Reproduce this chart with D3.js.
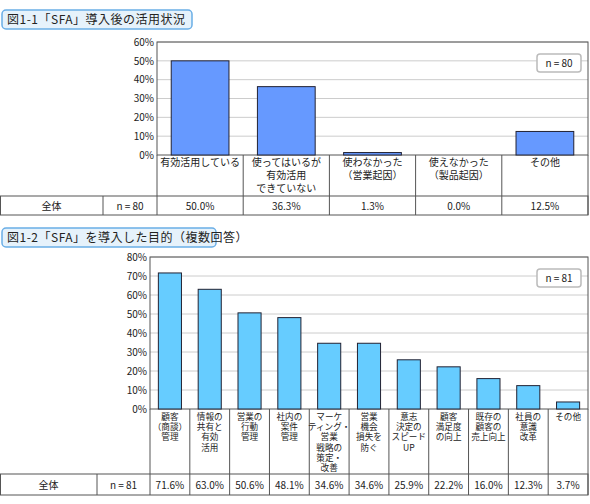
<!DOCTYPE html><html><head><meta charset="utf-8">
<script src="https://cdn.jsdelivr.net/npm/d3@7"></script>
<style>body{margin:0;background:#fff}text{font-family:"Noto Sans CJK JP",sans-serif;font-size:10px;fill:#222}</style>
</head><body><svg id="c" width="590" height="504"></svg><script>
const cats1=["有効活用している","使ってはいるが|有効活用|できていない","使わなかった|（営業起因）","使えなかった|（製品起因）","その他"];
const vals1=[50.0,36.3,1.3,0.0,12.5];
const ticks1=[0,10,20,30,40,50,60];
const cats2=["顧客|（商談）|管理","情報の|共有と|有効|活用","営業の|行動|管理","社内の|案件|管理","マーケ|ティング・|営業|戦略の|策定・|改善","営業|機会|損失を|防ぐ","意志|決定の|スピード|UP","顧客|満足度|の向上","既存の|顧客の|売上向上","社員の|意識|改革","その他"];
const vals2=[71.6,63.0,50.6,48.1,34.6,34.6,25.9,22.2,16.0,12.3,3.7];
const ticks2=[0,10,20,30,40,50,60,70,80];
const svg=d3.select("#c");
function chart(o){
  const g=svg.append("g");
  g.append("rect").attr("x",2).attr("y",o.ty).attr("width",o.tw).attr("height",19).attr("rx",4)
   .attr("fill","#e6f2fb").attr("stroke","#6aaee6").attr("stroke-width",1.5);
  g.append("text").attr("x",7).attr("y",o.ty+14).style("font-size","12px").style("letter-spacing","0.5px").text(o.title);
  const x=d3.scaleBand().domain(d3.range(o.cats.length)).range([o.x0,588]).paddingInner(o.pad).paddingOuter(o.pad/2);
  const y=d3.scaleLinear().domain([0,o.max]).range([o.y0,o.y1]);
  g.selectAll(".gl").data(o.ticks.slice(1)).join("line").attr("x1",o.x0).attr("x2",588)
   .attr("y1",d=>y(d)).attr("y2",d=>y(d)).attr("stroke","#ccc");
  g.append("rect").attr("x",o.x0).attr("y",o.y1).attr("width",588-o.x0).attr("height",o.y0-o.y1).attr("fill","none").attr("stroke","#555");
  const ax=g.append("g").attr("transform",`translate(${o.x0},0)`).call(d3.axisLeft(y).tickValues(o.ticks).tickSize(0).tickPadding(3).tickFormat(d=>d+"%"));
  ax.select(".domain").remove();
  ax.selectAll("text").style("font-size","10px").attr("fill","#222");
  g.selectAll(".b").data(o.vals).join("rect").attr("x",(d,i)=>x(i)).attr("width",x.bandwidth())
   .attr("y",d=>y(d)).attr("height",d=>o.y0-y(d)).attr("fill",o.color).attr("stroke","#223").attr("stroke-width",1);
  g.append("rect").attr("x",537).attr("y",o.y1+12).attr("width",44).attr("height",18).attr("rx",3).attr("fill","#fff").attr("stroke","#bbb").attr("stroke-width",1.5);
  g.append("text").attr("x",559).attr("y",o.y1+25).attr("text-anchor","middle").text("n = "+o.n);
  const step=(588-o.x0)/o.cats.length;
  const colX=i=>o.x0+i*step;
  g.selectAll(".vl").data(d3.range(o.cats.length+1)).join("line").attr("x1",colX).attr("x2",colX)
   .attr("y1",o.y0).attr("y2",o.tb).attr("stroke","#555");
  o.cats.forEach((c,i)=>{
    c.split("|").forEach((s,j)=>g.append("text").attr("x",colX(i)+step/2).attr("y",o.y0+11+j*o.lh)
      .attr("text-anchor","middle").style("font-size",o.fs+"px").text(s));
  });
  g.append("rect").attr("x",0.5).attr("y",o.tt).attr("width",587.5).attr("height",o.tb-o.tt).attr("fill","none").attr("stroke","#555");
  g.append("line").attr("x1",o.lc).attr("x2",o.lc).attr("y1",o.tt).attr("y2",o.tb).attr("stroke","#555");
  const my=(o.tt+o.tb)/2+4;
  g.append("text").attr("x",o.lc/2).attr("y",my).attr("text-anchor","middle").text("全体");
  g.append("text").attr("x",(o.lc+o.x0)/2).attr("y",my).attr("text-anchor","middle").text("n = "+o.n);
  o.vals.forEach((v,i)=>g.append("text").attr("x",colX(i)+step/2).attr("y",my).attr("text-anchor","middle").text(v.toFixed(1)+"%"));
}
chart({title:"図1-1「SFA」導入後の活用状況",ty:10,tw:190,cats:cats1,vals:vals1,ticks:ticks1,max:60,x0:157,y0:155,y1:42,
  pad:0.33,color:"#6699ff",n:80,tb:215,tt:196,lc:103,lh:13,fs:10});
chart({title:"図1-2「SFA」を導入した目的（複数回答）",ty:228,tw:214,cats:cats2,vals:vals2,ticks:ticks2,max:80,x0:150,y0:409,y1:257,
  pad:0.42,color:"#66ccff",n:81,tb:495,tt:474,lc:97,lh:10.2,fs:8.6});
</script></body></html>
